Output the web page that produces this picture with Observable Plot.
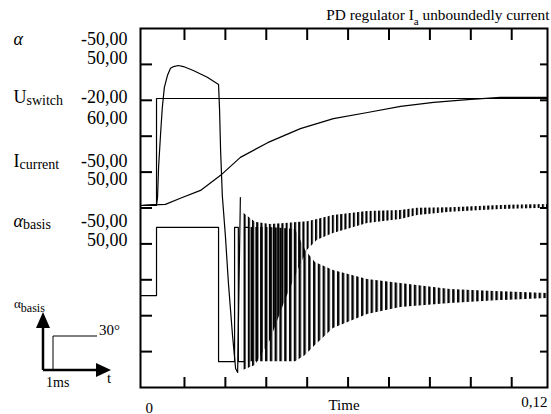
<!DOCTYPE html>
<html><head><meta charset="utf-8">
<script src="https://cdn.jsdelivr.net/npm/d3@7"></script>
<script src="https://cdn.jsdelivr.net/npm/@observablehq/plot@0.6"></script>
<style>
body{margin:0;background:#fff;}
#wrap{position:relative;width:551px;height:414px;font-family:"Liberation Serif","Times New Roman",serif;}
#wrap svg{position:absolute;left:0;top:0;}
</style></head><body><div id="wrap"></div>
<script>
// ---- data (x: time in s, y: screen divisions 0..10) ----
const xTicks = [0.012, 0.024, 0.036, 0.048, 0.06, 0.072, 0.084, 0.096, 0.108];
const yTicks = [1, 2, 3, 4, 5, 6, 7, 8, 9];
const xLabelLeft = ["0"], xLabelLeftPos = [0];
const xLabelRight = ["0,12"];
const xTitle = "Time";
const chartTitle = "PD regulator I_{a} unboundedly current";

const nameLabels = ["α", "U_{switch}", "I_{current}", "α_{basis}"];
const namePos = [9.69, 8.08, 6.30, 4.62];
const numLabels = ["-50,00", "50,00", "-20,00", "60,00", "-50,00", "50,00", "-50,00", "50,00"];
const numPos = [9.69, 9.16, 8.08, 7.49, 6.30, 5.79, 4.62, 4.09];

// alpha
const alphaT = [-0.0009, 0.0038, 0.0041, 0.0044, 0.0050, 0.0055, 0.0061, 0.0070, 0.0079, 0.0088, 0.0102, 0.0117, 0.0146, 0.0187, 0.0220, 0.0223, 0.0226, 0.0231, 0.0240, 0.0249, 0.0261, 0.0270, 0.0276, 0.0284];
const alphaV = [5.07, 5.10, 5.29, 6.13, 7.08, 7.80, 8.36, 8.69, 8.89, 8.94, 8.97, 8.94, 8.83, 8.64, 8.44, 7.72, 6.60, 5.35, 4.23, 2.90, 1.45, 0.53, 0.42, 5.29];
// alpha oscillation envelope
const aBandT  = [0.0290, 0.0328, 0.0372, 0.0416, 0.0460, 0.0481, 0.0510, 0.0557, 0.0657, 0.0754, 0.0804, 0.0900, 0.1047, 0.1185];
const aBandHi = [4.88, 4.60, 4.54, 4.57, 4.60, 4.62, 4.68, 4.79, 4.90, 4.93, 4.99, 5.01, 5.07, 5.10];
const aBandLo = [0.47, 0.61, 1.31, 2.42, 3.40, 3.82, 4.10, 4.29, 4.57, 4.68, 4.79, 4.88, 4.96, 4.99];
// U switch
const uT = [-0.0009, 0.0038, 0.0038, 0.1185];
const uV = [5.07, 5.07, 8.05, 8.05];
// I current
const iT = [-0.0009, 0.0064, 0.0108, 0.0167, 0.0226, 0.0284, 0.0364, 0.0460, 0.0557, 0.0657, 0.0754, 0.0851, 0.0950, 0.1047, 0.1185];
const iV = [5.07, 5.10, 5.27, 5.49, 5.91, 6.41, 6.82, 7.21, 7.49, 7.66, 7.83, 7.94, 8.02, 8.08, 8.08];
// alpha basis
const bT = [-0.0009, 0.0038, 0.0038, 0.0220, 0.0220, 0.0267, 0.0267, 0.0278, 0.0278, 0.0296, 0.0296, 0.0308, 0.0308];
const bV = [2.56, 2.56, 4.46, 4.46, 0.72, 0.72, 4.46, 4.46, 0.72, 0.72, 4.46, 4.46, 0.72];
const bBandT  = [0.0308, 0.0372, 0.0446, 0.0475, 0.0504, 0.0557, 0.0657, 0.0754, 0.0900, 0.1047, 0.1185];
const bBandHi = [4.46, 4.46, 4.40, 3.82, 3.48, 3.26, 3.01, 2.90, 2.73, 2.67, 2.62];
const bBandLo = [0.72, 0.72, 0.72, 0.89, 1.17, 1.64, 2.03, 2.23, 2.34, 2.42, 2.48];

const FONT = "'Liberation Serif', 'Times New Roman', serif";
const aBand = aBandT.map((t, i) => ({t, hi: aBandHi[i], lo: aBandLo[i]}));
const bBand = bBandT.map((t, i) => ({t, hi: bBandHi[i], lo: bBandLo[i]}));
const line = (T, V) => Plot.line(T, {x: T, y: V, stroke: "#000", strokeWidth: 1.2});

const chart = Plot.plot({
  width: 551, height: 414,
  marginLeft: 140, marginRight: 4, marginTop: 28, marginBottom: 27,
  style: {fontFamily: FONT, background: "white", color: "black"},
  x: {domain: [-0.0009, 0.1185]},
  y: {domain: [0, 10]},
  marks: [
    Plot.areaY(bBand, {x: "t", y1: "lo", y2: "hi", fill: "url(#stripB)"}),
    Plot.areaY(aBand, {x: "t", y1: "lo", y2: "hi", fill: "url(#stripA)"}),
    line(bT, bV),
    line(iT, iV),
    line(uT, uV),
    line(alphaT, alphaV),
    Plot.frame({stroke: "#000", strokeWidth: 2}),
    Plot.axisX(xTicks, {anchor: "bottom", tickSize: -10, strokeWidth: 2, fill: "none", label: null}),
    Plot.axisX(xTicks, {anchor: "top", tickSize: -11, strokeWidth: 2, fill: "none", label: null}),
    Plot.axisY(yTicks, {anchor: "left", tickSize: -12, strokeWidth: 2, fill: "none", label: null}),
    Plot.axisY(yTicks, {anchor: "right", tickSize: -8, strokeWidth: 2, fill: "none", label: null}),
    Plot.text(nameLabels, {y: namePos, text: nameLabels, frameAnchor: "left", textAnchor: "start", dx: -127, fontSize: 18}),
    Plot.text(numLabels, {y: numPos, text: numLabels, frameAnchor: "left", textAnchor: "end", dx: -13, fontSize: 18}),
    Plot.text([chartTitle], {text: d => d, frameAnchor: "top-right", lineAnchor: "bottom", textAnchor: "end", dx: 2, dy: -9, fontSize: 15.3}),
    Plot.text(xLabelLeft, {x: xLabelLeftPos, text: xLabelLeft, frameAnchor: "bottom", lineAnchor: "bottom", textAnchor: "start", dx: 2, dy: 25, fontSize: 15}),
    Plot.text(xLabelRight, {text: xLabelRight, frameAnchor: "bottom-right", lineAnchor: "bottom", textAnchor: "end", dy: 19, fontSize: 15}),
    Plot.text([xTitle], {text: d => d, frameAnchor: "bottom", lineAnchor: "bottom", dy: 22, fontSize: 15})
  ]
});

// subscripts / italic alpha
const NS = "http://www.w3.org/2000/svg";
chart.querySelectorAll("text").forEach(el => {
  const s = el.textContent;
  if (s === "α") { el.setAttribute("font-style", "italic"); return; }
  const m = s.match(/^(.*?)_\{([^}]*)\}(.*)$/);
  if (!m) return;
  const isTitle = s.startsWith("PD");
  const subSize = isTitle ? 11 : 14;
  const shift = isTitle ? 5 : 2;
  el.textContent = "";
  const add = (txt, attrs) => {
    const t = document.createElementNS(NS, "tspan");
    t.textContent = txt;
    for (const k in attrs) t.setAttribute(k, attrs[k]);
    el.appendChild(t);
  };
  let main = m[1];
  if (main.startsWith("α")) { add("α", {"font-style": "italic"}); main = main.slice(1); }
  if (main) add(main, {});
  add(m[2], {"font-size": subSize, dy: shift});
  if (m[3]) add(m[3], {dy: -shift});
});

const wrap = document.getElementById("wrap");
wrap.appendChild(chart);

// schematic legend + stripe patterns
const overlay = `
<svg width="551" height="414" xmlns="http://www.w3.org/2000/svg" font-family="${FONT}">
  <defs>
    <pattern id="stripA" patternUnits="userSpaceOnUse" width="4.2" height="10"><rect x="0" y="0" width="2.1" height="10" fill="#000"/></pattern>
    <pattern id="stripB" patternUnits="userSpaceOnUse" width="4.8" height="10"><rect x="1" y="0" width="2.4" height="10" fill="#000"/></pattern>
  </defs>
  <line x1="43" y1="370" x2="43" y2="326" stroke="#000" stroke-width="2.5"/>
  <polygon points="43,312 36,328 50,328" fill="#000"/>
  <line x1="43" y1="370" x2="97" y2="370" stroke="#000" stroke-width="2.5"/>
  <polygon points="111,370 96,363 96,377" fill="#000"/>
  <polyline points="53,370 53,336 97,336" fill="none" stroke="#000" stroke-width="1"/>
  <text x="14" y="308" font-size="13">α<tspan font-size="12" dy="4">basis</tspan></text>
  <text x="99" y="335" font-size="15">30°</text>
  <text x="46" y="387" font-size="14">1ms</text>
  <text x="107" y="383" font-size="15">t</text>
</svg>`;
wrap.insertAdjacentHTML("beforeend", overlay);
</script>
</body></html>
